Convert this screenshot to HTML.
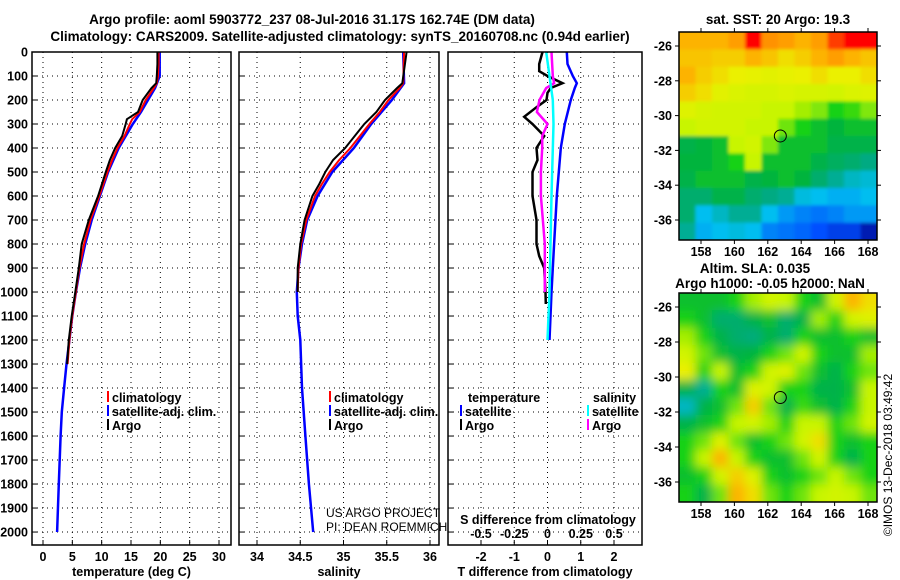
<!DOCTYPE html>
<html><head><meta charset="utf-8">
<style>
body{margin:0;background:#fff;}
svg{display:block;font-family:"Liberation Sans",sans-serif;}
.b{font-weight:bold;font-size:12.5px;}
.t{font-weight:bold;font-size:13.5px;}
</style></head>
<body>
<svg id="chart" width="900" height="580" viewBox="0 0 900 580">
<defs>
<filter id="blur" x="-5%" y="-5%" width="110%" height="110%"><feGaussianBlur stdDeviation="5"/></filter>
<filter id="blur2" x="-5%" y="-5%" width="110%" height="110%"><feGaussianBlur stdDeviation="1.5"/></filter>
<clipPath id="clipSla"><rect x="679" y="293" width="198" height="209"/></clipPath>
<clipPath id="clipSst"><rect x="679" y="32" width="198" height="208"/></clipPath>
</defs>
<text class="t" x="312" y="24" text-anchor="middle">Argo profile: aoml 5903772_237 08-Jul-2016 31.17S 162.74E (DM data)</text>
<text class="t" x="340" y="41" text-anchor="middle">Climatology: CARS2009. Satellite-adjusted climatology: synTS_20160708.nc (0.94d earlier)</text>
<text class="t" x="778" y="24" text-anchor="middle">sat. SST: 20 Argo: 19.3</text>
<text class="t" x="755" y="273" text-anchor="middle">Altim. SLA: 0.035</text>
<text class="t" x="770" y="288" text-anchor="middle">Argo h1000: -0.05 h2000: NaN</text>
<text x="892" y="455" font-size="12" text-anchor="middle" transform="rotate(-90 892 455)">©IMOS 13-Dec-2018 03:49:42</text>
<g id="g"></g>
</svg>
<script>
// ---- data ----
const tDepthArgo=[0,50,100,130,150,200,250,280,300,350,400,450,500,600,700,800,900,1000,1100,1200,1300];
const tArgo=[19.5,19.5,19.4,19.3,18.5,17.0,16.2,14.3,14.1,13.5,12.3,11.4,10.7,9.4,7.8,6.6,6.1,5.5,4.9,4.4,4.1];
const tClim=[19.7,19.7,19.6,19.4,18.9,17.5,16.5,15.2,14.8,13.9,12.7,11.8,11.0,9.6,8.1,7.0,6.2,5.6,5.0,4.5,4.2];
const tDepthSat=[0,100,150,200,250,300,400,500,600,700,800,900,1000,1100,1200,1300,1400,1500,1600,1800,2000];
const tSat=[19.9,19.9,19.1,17.9,16.7,15.3,12.9,11.1,9.7,8.3,7.2,6.3,5.6,5.0,4.5,4.0,3.6,3.2,3.0,2.7,2.4];
const sDepthArgo=[0,130,150,200,250,300,400,450,500,550,600,700,800,900,1000];
const sArgo=[35.73,35.68,35.62,35.48,35.38,35.24,35.02,34.88,34.79,34.72,34.64,34.55,34.50,34.47,34.47];
const sClim=[35.70,35.69,35.65,35.52,35.42,35.30,35.08,34.95,34.84,34.75,34.67,34.57,34.51,34.48,34.47];
const sDepthSat=[0,130,200,300,400,500,600,700,800,900,1000,1100,1200,1400,1600,1800,2000];
const sSat=[35.69,35.70,35.56,35.32,35.12,34.87,34.70,34.58,34.52,34.48,34.46,34.47,34.50,34.52,34.56,34.60,34.65];
const dTDepthSat=[0,50,100,130,150,200,300,400,600,800,1000,1200];
const dTSat=[0.58,0.6,0.76,0.88,0.82,0.7,0.52,0.4,0.28,0.2,0.12,0.06];
const dTDepthArgo=[0,50,80,100,130,150,170,200,230,270,300,350,400,450,500,600,700,800,850,900,1000,1050];
const dTArgo=[-0.15,-0.25,-0.25,0,0.45,0.1,0,-0.03,-0.33,-0.7,-0.45,-0.1,-0.33,-0.3,-0.45,-0.45,-0.33,-0.33,-0.25,-0.1,-0.06,-0.05];
const dSDepthArgo=[0,100,130,150,200,250,300,350,400,500,600,800,1000];
const dSArgo=[0.03,0.04,0.05,-0.01,-0.06,-0.08,0,-0.04,-0.04,-0.05,-0.05,-0.02,-0.02];
const dSDepthSat=[0,100,200,300,600,1000,1200];
const dSSat=[-0.01,0.015,0.04,0.045,0.03,0.015,0];
const sstGrid=[
[0.85,0.85,0.85,0.87,1.0,0.88,0.87,0.85,0.87,0.95,1,1],
[0.83,0.83,0.82,0.82,0.85,0.83,0.8,0.82,0.85,0.87,0.85,0.83],
[0.85,0.82,0.8,0.78,0.77,0.76,0.77,0.78,0.8,0.78,0.78,0.8],
[0.82,0.8,0.76,0.74,0.73,0.73,0.74,0.73,0.73,0.72,0.74,0.75],
[0.75,0.73,0.72,0.72,0.72,0.7,0.7,0.68,0.66,0.6,0.62,0.66],
[0.7,0.72,0.72,0.72,0.7,0.7,0.65,0.6,0.55,0.52,0.55,0.55],
[0.5,0.52,0.55,0.7,0.72,0.66,0.55,0.55,0.55,0.5,0.5,0.5],
[0.52,0.52,0.55,0.6,0.7,0.55,0.55,0.55,0.5,0.47,0.45,0.42],
[0.5,0.55,0.55,0.55,0.5,0.52,0.55,0.52,0.45,0.4,0.35,0.33],
[0.45,0.45,0.5,0.5,0.45,0.42,0.4,0.32,0.3,0.28,0.28,0.3],
[0.45,0.3,0.35,0.4,0.4,0.3,0.25,0.22,0.2,0.22,0.25,0.25],
[0.4,0.28,0.3,0.32,0.3,0.22,0.2,0.18,0.15,0.12,0.12,0.05]];
const slaGrid=[
[0.55,0.55,0.55,0.6,0.68,0.72,0.7,0.6,0.55,0.72,0.85,0.8],
[0.6,0.55,0.45,0.45,0.5,0.55,0.45,0.5,0.68,0.6,0.72,0.75],
[0.68,0.6,0.5,0.45,0.43,0.5,0.45,0.6,0.55,0.55,0.6,0.55],
[0.72,0.65,0.55,0.5,0.52,0.6,0.65,0.72,0.6,0.55,0.55,0.68],
[0.78,0.6,0.7,0.55,0.6,0.72,0.75,0.65,0.55,0.5,0.6,0.65],
[0.5,0.4,0.6,0.55,0.75,0.72,0.6,0.6,0.5,0.5,0.55,0.7],
[0.35,0.5,0.55,0.65,0.82,0.65,0.5,0.62,0.55,0.5,0.6,0.7],
[0.5,0.55,0.6,0.7,0.72,0.68,0.6,0.7,0.7,0.6,0.65,0.72],
[0.6,0.65,0.75,0.65,0.55,0.6,0.65,0.72,0.8,0.6,0.55,0.6],
[0.6,0.7,0.85,0.7,0.6,0.55,0.55,0.65,0.72,0.6,0.5,0.6],
[0.55,0.6,0.72,0.82,0.75,0.6,0.55,0.6,0.65,0.7,0.65,0.6],
[0.6,0.5,0.65,0.85,0.8,0.65,0.6,0.65,0.7,0.72,0.7,0.65]];
const depthTicks=[0,100,200,300,400,500,600,700,800,900,1000,1100,1200,1300,1400,1500,1600,1700,1800,1900,2000];
const tTicks=[0,5,10,15,20,25,30];
const sTicks=[34,34.5,35,35.5,36];
const sTickLabels=["34","34.5","35","35.5","36"];
const dTTicks=[-2,-1,0,1,2];
const dSTicks=[-0.5,-0.25,0,0.25,0.5];
const dSTickLabels=["-0.5","-0.25","0","0.25","0.5"];
const lonTicks=[158,160,162,164,166,168];
const latTicks=[-26,-28,-30,-32,-34,-36];
const argoLon=162.75, argoLat=-31.17;

const NS="http://www.w3.org/2000/svg";
const G=document.getElementById('g');
function el(tag,attrs,parent){const e=document.createElementNS(NS,tag);for(const k in attrs)e.setAttribute(k,attrs[k]);(parent||G).appendChild(e);return e;}
function txt(s,x,y,cls,anchor){const e=el('text',{x:x,y:y,'class':cls||'b','text-anchor':anchor||'middle'});e.textContent=s;return e;}

const Y0=52,Y1=545,DMAX=2054;
const yD=d=>Y0+d/DMAX*(Y1-Y0);
function lin(d0,d1,p0,p1){return v=>p0+(v-d0)/(d1-d0)*(p1-p0);}
const panels=[
 {x0:32,x1:231,f:lin(0,30,43,219),ticks:tTicks,labels:tTicks.map(String),title:'temperature (deg C)',name:'temperature'},
 {x0:239,x1:439,f:lin(34,36,257,430),ticks:sTicks,labels:sTickLabels,title:'salinity',name:'salinity'},
 {x0:448,x1:642,f:lin(-2,2,481,614),ticks:dTTicks,labels:dTTicks.map(String),title:'T difference from climatology',name:'difference'}];
const fS=lin(-0.5,0.5,481,614);

panels.forEach((p,i)=>{
 const g=el('g',{});
 
 
 p.ticks.forEach(t=>{el('line',{x1:p.f(t),x2:p.f(t),y1:Y0,y2:Y1,stroke:'#000','stroke-dasharray':'1,4','stroke-width':1},g);
  el('line',{x1:p.f(t),x2:p.f(t),y1:Y1,y2:Y1-5,stroke:'#000'},g);
  const l=txt(p.labels[p.ticks.indexOf(t)],p.f(t),561);});
 depthTicks.forEach(d=>{el('line',{x1:p.x0,x2:p.x1,y1:yD(d),y2:yD(d),stroke:'#000','stroke-dasharray':'1,4'},g);
  el('line',{x1:p.x0,x2:p.x0+5,y1:yD(d),y2:yD(d),stroke:'#000'},g);});
 const at=txt(p.title,(p.x0+p.x1)/2,576);
});
depthTicks.forEach(d=>{const l=txt(String(d),28,yD(d)+4.5,'b','end');});

function line(xs,ds,f,color,w,name){
 const pts=xs.map((v,i)=>f(v).toFixed(1)+','+yD(ds[i]).toFixed(1)).join(' ');
 const e=el('polyline',{points:pts,fill:'none',stroke:color,'stroke-width':w,'stroke-linejoin':'miter'});
 
 
}
const P=panels;
line(tSat,tDepthSat,P[0].f,'#0000ff',2.5,'temperature-satellite-line');
line(tClim,tDepthArgo,P[0].f,'#ff0000',2,'temperature-climatology-line');
line(tArgo,tDepthArgo,P[0].f,'#000',2,'temperature-argo-line');
line(sSat,sDepthSat,P[1].f,'#0000ff',2.5,'salinity-satellite-line');
line(sClim,sDepthArgo,P[1].f,'#ff0000',2,'salinity-climatology-line');
line(sArgo,sDepthArgo,P[1].f,'#000',2,'salinity-argo-line');
line(dTSat,dTDepthSat,P[2].f,'#0000ff',2.5,'t-diff-satellite-line');
line(dTArgo,dTDepthArgo,P[2].f,'#000',2.5,'t-diff-argo-line');
line(dSArgo,dSDepthArgo,fS,'#ff00ff',2.5,'s-diff-argo-line');
line(dSSat,dSDepthSat,fS,'#00ffff',2.5,'s-diff-satellite-line');

panels.forEach(p=>{const r=el('rect',{x:p.x0,y:Y0,width:p.x1-p.x0,height:Y1-Y0,fill:'none',stroke:'#000','stroke-width':1.5});
 });

// legends
function legend(x,y,color,label){const g=el('g',{});
 
 
 el('rect',{x:x,y:y-11,width:2,height:11,fill:color},g);
 const t=txt(label,x+5,y,'b','start');g.appendChild(t);}
[[107,'#ff0000','climatology'],[107,'#0000ff','satellite-adj. clim.'],[107,'#000','Argo']].forEach((l,i)=>legend(l[0],402+i*14,l[1],l[2]));
[[329,'#ff0000','climatology'],[329,'#0000ff','satellite-adj. clim.'],[329,'#000','Argo']].forEach((l,i)=>legend(l[0],402+i*14,l[1],l[2]));
txt('temperature',468,402,'b','start');
txt('salinity',593,402,'b','start');
legend(460,416,'#0000ff','satellite');legend(460,430,'#000','Argo');
legend(587,416,'#00ffff','satellite');legend(587,430,'#ff00ff','Argo');
txt('S difference from climatology',548,524);
dSTicks.forEach((t,i)=>{const l=txt(dSTickLabels[i],fS(t),538);});
[['US ARGO PROJECT',517],['PI: DEAN ROEMMICH',531]].forEach(a=>{const e=el('text',{x:326,y:a[1],'font-size':'12'});e.textContent=a[0];});

// maps
function cmap(v){const st=[[0,[0,0,140]],[0.15,[0,80,255]],[0.3,[0,190,240]],[0.42,[0,170,130]],[0.52,[0,180,60]],[0.6,[20,210,20]],[0.7,[200,245,0]],[0.78,[235,240,0]],[0.86,[255,170,0]],[1,[255,0,0]]];
 for(let i=1;i<st.length;i++){if(v<=st[i][0]){const a=st[i-1],b=st[i],t=(v-a[0])/(b[0]-a[0]);return 'rgb('+a[1].map((c,k)=>Math.round(c+(b[1][k]-c)*t)).join(',')+')';}}return 'rgb(255,0,0)';}
function map(grid,x0,y0,x1,y1,latA,yA,latB,yB,name,filt,clip){
 const g=el('g',{});
 
 
 const cg=el('g',{'clip-path':'url(#'+clip+')'},g);
 const ig=el('g',{filter:'url(#'+filt+')'},cg);
 const R=grid.length,C=grid[0].length,cw=(x1-x0)/C,ch=(y1-y0)/R;
 grid.forEach((row,r)=>row.forEach((v,c)=>{
  const px=x0+c*cw-(c==0?12:0), py=y0+r*ch-(r==0?12:0);
  const w=cw+0.5+(c==0?12:0)+(c==C-1?12:0), h=ch+0.5+(r==0?12:0)+(r==R-1?12:0);
  el('rect',{x:px,y:py,width:w,height:h,fill:cmap(v)},ig);}));
 const fx=lin(158,168,701,868),fy=lin(latA,latB,yA,yB);
 el('rect',{x:x0,y:y0,width:x1-x0,height:y1-y0,fill:'none',stroke:'#000','stroke-width':1.5},g);
 lonTicks.forEach(t=>{el('line',{x1:fx(t),x2:fx(t),y1:y0,y2:y0-4,stroke:'#000'},g);el('line',{x1:fx(t),x2:fx(t),y1:y1,y2:y1+4,stroke:'#000'},g);
  const l=txt(String(t),fx(t),y1+16);g.appendChild(l);});
 latTicks.forEach(t=>{el('line',{x1:x0,x2:x0-4,y1:fy(t),y2:fy(t),stroke:'#000'},g);el('line',{x1:x1,x2:x1+4,y1:fy(t),y2:fy(t),stroke:'#000'},g);
  const l=txt(String(t),x0-7,fy(t)+4.5,'b','end');g.appendChild(l);});
 const c=el('circle',{cx:fx(argoLon),cy:fy(argoLat),r:6,fill:'none',stroke:'#000','stroke-width':1},g);
 
 
}
map(sstGrid,679,32,877,240,-26,46,-36,220,'sst-map','blur2','clipSst');
map(slaGrid,679,293,877,502,-26,307,-36,482,'sla-map','blur','clipSla');
</script>
</body></html>
